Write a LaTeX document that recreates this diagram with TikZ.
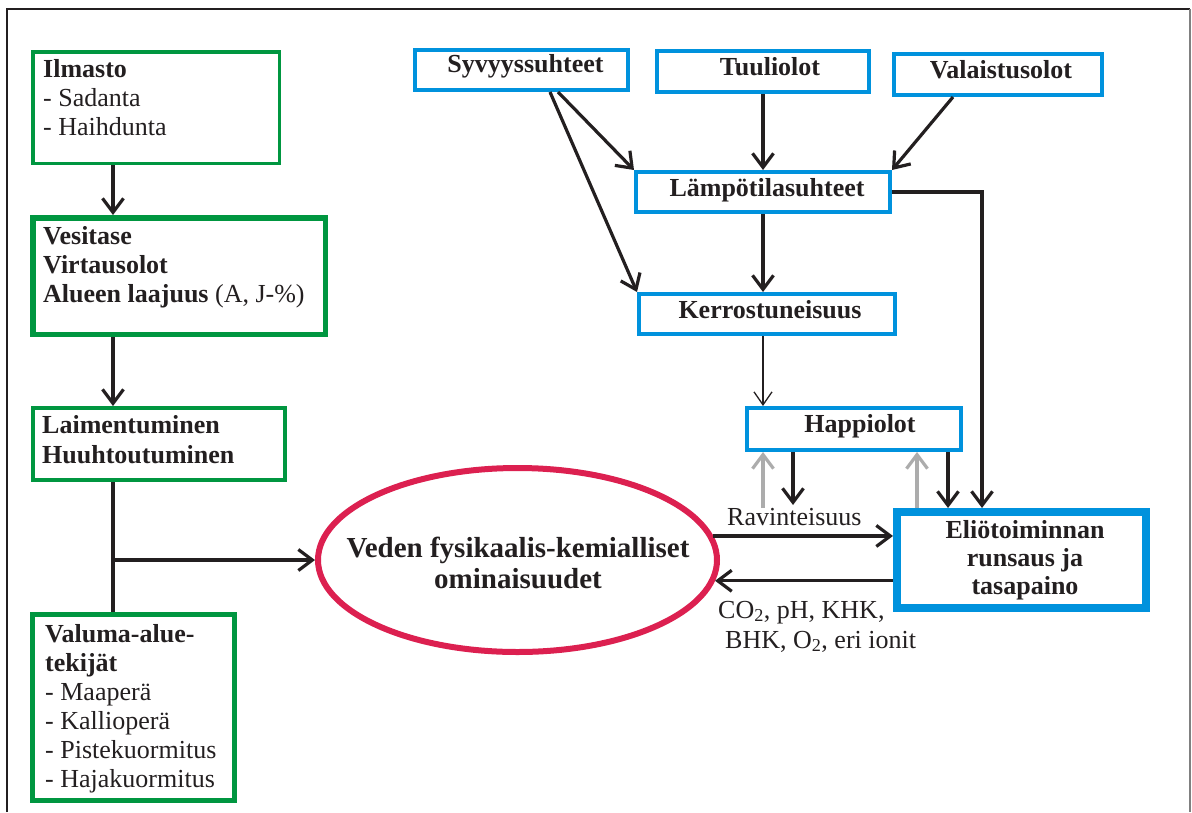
\documentclass[tikz,border=0pt]{standalone}
\usepackage{fontspec}
\setmainfont{Liberation Serif}
\usetikzlibrary{arrows.meta,shapes.geometric}
\definecolor{grn}{RGB}{0,150,64}
\definecolor{blu}{RGB}{0,146,221}
\definecolor{crim}{RGB}{220,32,80}
\definecolor{ink}{RGB}{35,31,32}
\definecolor{lgrey}{RGB}{172,172,172}
\tikzset{
  gbox/.style={draw=grn, rectangle, inner sep=0pt},
  bbox/.style={draw=blu, rectangle, inner sep=0pt, line width=4pt},
  txt/.style={inner sep=0pt, text=ink, font=\fontsize{26}{29}\selectfont},
  btxt/.style={txt, font=\fontsize{26}{29}\selectfont\bfseries},
  arr/.style={draw=ink, line width=3.2pt, -{Straight Barb[length=14pt,width=21pt]}},
  thinarr/.style={draw=ink, line width=1.3pt, -{Straight Barb[length=13pt,width=18pt]}},
  garr/.style={draw=lgrey, line width=3.2pt, -{Straight Barb[length=14pt,width=21pt]}},
  conn/.style={draw=ink, line width=3.2pt},
}
\begin{document}
\begin{tikzpicture}[x=1pt,y=-1pt]
\useasboundingbox (0,0) rectangle (1192,812);
\draw[ink, line width=1.2pt] (7,812) -- (7,9) -- (1190,9);
\draw[gray, line width=1.5pt] (1190,9) -- (1190,812);

% helper x coordinates
\coordinate (c113) at (113,0);
\coordinate (c550) at (550,0);
\coordinate (c558) at (558,0);
\coordinate (c953) at (953,0);
\coordinate (c763) at (763,0);
\coordinate (c917) at (917,0);
\coordinate (c948) at (948,0);
\coordinate (c982) at (982,0);

% green boxes
\node[gbox, line width=3.5pt, minimum width=246.5pt, minimum height=111.5pt] (ilm) at (156,107.5) {};
\node[gbox, line width=5.5pt, minimum width=292.5pt, minimum height=116.5pt] (ves) at (179,276) {};
\node[gbox, line width=4pt, minimum width=252pt, minimum height=72pt] (lai) at (159,444) {};
\node[gbox, line width=5pt, minimum width=202pt, minimum height=186pt] (val) at (133.5,707.5) {};

\node[txt, align=left, anchor=north west] (ilmT) at (43,59.4) {\textbf{Ilmasto}\\- Sadanta\\- Haihdunta};
\node[txt, align=left, anchor=north west] (vesT) at (43,225.8) {\textbf{Vesitase}\\\textbf{Virtausolot}\\\textbf{Alueen laajuus} (A, J-\%)};
\node[txt, align=left, anchor=north west, font=\fontsize{26}{30}\selectfont] (laiT) at (42,415) {\textbf{Laimentuminen}\\\textbf{Huuhtoutuminen}};
\node[txt, align=left, anchor=north west] (valT) at (45,624.4) {\textbf{Valuma-alue-}\\\textbf{tekijät}\\- Maaperä\\- Kallioperä\\- Pistekuormitus\\- Hajakuormitus};

% blue boxes
\node[bbox, minimum width=213pt, minimum height=40pt] (syv) at (521.5,70) {};
\node[bbox, minimum width=212pt, minimum height=41pt] (tuu) at (763,71.5) {};
\node[bbox, minimum width=208pt, minimum height=41pt] (vla) at (998,74.5) {};
\node[bbox, minimum width=254pt, minimum height=40pt] (lam) at (763,192) {};
\node[bbox, minimum width=256pt, minimum height=40pt] (ker) at (767,314) {};
\node[bbox, minimum width=214pt, minimum height=42pt] (hap) at (854,429) {};
\node[bbox, line width=8pt, minimum width=249pt, minimum height=96pt] (eli) at (1021.5,560) {};

\node[btxt, anchor=base] (syvT) at (525.5,72) {Syvyyssuhteet};
\node[btxt, anchor=base] (tuuT) at (770,75) {Tuuliolot};
\node[btxt, anchor=base] (vlaT) at (1001,78) {Valaistusolot};
\node[btxt, anchor=base] (lamT) at (767,196) {Lämpötilasuhteet};
\node[btxt, anchor=base] (kerT) at (770,318) {Kerrostuneisuus};
\node[btxt, anchor=base] (hapT) at (860,432) {Happiolot};
\node[btxt, align=center, anchor=north, font=\fontsize{26}{28}\selectfont\bfseries] (eliT) at (1025,520) {Eliötoiminnan\\runsaus ja\\tasapaino};

% ellipse
\node[ellipse, draw=crim, line width=6pt, inner sep=0pt, minimum width=399pt, minimum height=184pt] (ell) at (517.5,560) {};
\node[txt, align=center, anchor=north, font=\fontsize{29}{31}\selectfont\bfseries] (ellT) at (518,537) {Veden fysikaalis-kemialliset\\ominaisuudet};

% labels
\node[txt, anchor=base west] (ravT) at (727,525) {Ravinteisuus};
\node[txt, anchor=base west] (co1) at (718,618) {CO\textsubscript{2}, pH, KHK,};
\node[txt, anchor=base west] (co2) at (725,648) {BHK, O\textsubscript{2}, eri ionit};

% left column connectors
\draw[arr] (ilm.south -| c113) -- (ves.north -| c113);
\draw[arr] (ves.south -| c113) -- (lai.north -| c113);
\draw[conn] (lai.south -| c113) -- (val.north -| c113);
\draw[arr] (ell.west -| c113) -- (ell.west);

% top connectors
\draw[arr] (syv.south -| c558) -- (lam.north west);
\draw[arr] (syv.south -| c550) -- (ker.north west);
\draw[arr] (tuu.south) -- (lam.north -| tuu.south);
\draw[arr] (vla.south -| c953) -- (lam.north east);
\draw[arr] (lam.south) -- (ker.north -| lam.south);
\draw[arr] (lam.east) -| (eli.north -| c982);
\draw[thinarr] (ker.south -| c763) -- (hap.north -| c763);

% around Happiolot
\coordinate (rav) at (793,505);
\coordinate (rvg) at (763,508);
\draw[arr] (hap.south -| rav) -- (rav);
\draw[garr] (rvg) -- (hap.south -| rvg);
\draw[garr] (eli.north -| c917) -- (hap.south -| c917);
\draw[arr] (hap.south -| c948) -- (eli.north -| c948);

% ellipse <-> Eliö
\draw[arr] (ell.7) -- (eli.west |- ell.7);
\draw[arr] (eli.west |- ell.-6) -- (ell.-6);
\end{tikzpicture}
\end{document}
